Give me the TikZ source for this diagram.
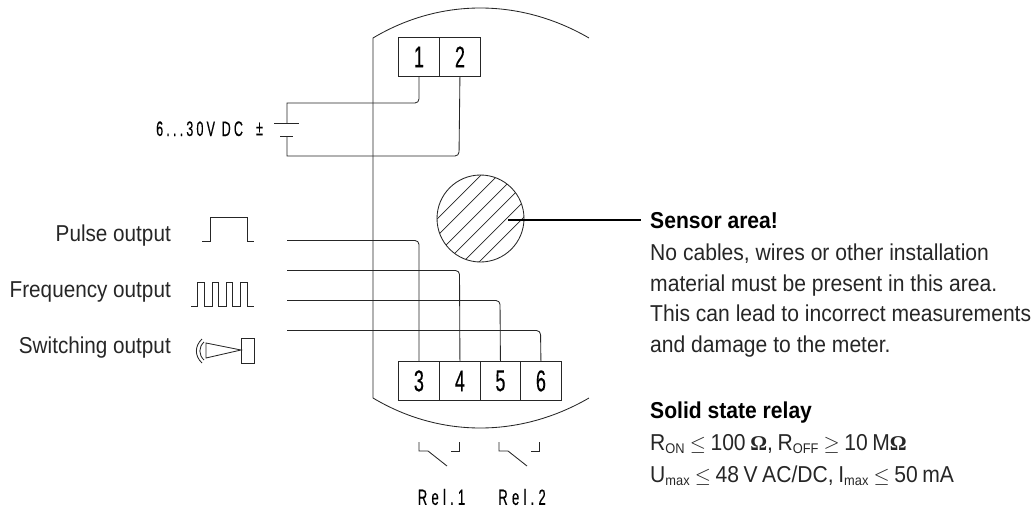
\documentclass[tikz,border=0pt]{standalone}
\usepackage{fontspec}
\usepackage{amsmath}
\setmainfont{Liberation Sans}
\newfontfamily\din[FakeStretch=0.6,LetterSpace=15,FakeBold=0.25]{Liberation Sans}
\newfontfamily\dinr[FakeStretch=0.6,LetterSpace=19,FakeBold=0.25]{Liberation Sans}
\newfontfamily\dinn[FakeStretch=0.6,FakeBold=0.25]{Liberation Sans}
\newfontfamily\body[FakeStretch=0.9]{Liberation Sans}
\newfontfamily\bodyw[FakeStretch=0.917]{Liberation Sans}
\newfontfamily\omf{Liberation Serif}
\tikzset{
 wire/.style={line width=0.85pt,draw=black!85},
 thin wire/.style={line width=0.85pt,draw=black!85},
 sym/.style={line width=0.85pt,draw=black!85},
 dinnum/.style={inner sep=0pt,font=\dinn\fontsize{30}{30}\selectfont},
 dinlab/.style={inner sep=0pt,font=\din\fontsize{21}{21}\selectfont},
 rellab/.style={inner sep=0pt,font=\dinr\fontsize{22}{22}\selectfont},
 lab/.style={inner sep=0pt,anchor=base east,font=\body\fontsize{23}{26}\selectfont,text=black!85},
 txt/.style={inner sep=0pt,anchor=base west,font=\bodyw\fontsize{23}{26}\selectfont,text=black!85},
 head/.style={inner sep=0pt,anchor=base west,font=\bodyw\bfseries\fontsize{23}{26}\selectfont},
 term/.style={draw=black!85,line width=0.85pt,inner sep=0pt,minimum height=39pt,anchor=north west},
}
\newcommand{\sbs}[1]{\textsubscript{\fontsize{14}{14}\selectfont #1}}
\newcommand{\myle}{{\fontsize{20}{20}\selectfont$\leq$}}
\newcommand{\myge}{{\fontsize{20}{20}\selectfont$\geq$}}
\newcommand{\myom}{{\omf\bfseries\fontsize{21}{21}\selectfont Ω}}
\begin{document}
\begin{tikzpicture}[x=1pt,y=-1pt]
\useasboundingbox (0,0) rectangle (1032,508);
% housing
\coordinate (tl) at (373,38);
\coordinate (bl) at (373,398);
\coordinate (tr) at (589,38);
\coordinate (br) at (589,398);
\draw[thin wire] (tr) .. controls (520,-2) and (440,-2) .. (tl) -- (bl) .. controls (440,438) and (520,438) .. (br);
% terminals
\node[term,minimum width=41pt] (t1) at (398,37) {};
\node[term,minimum width=41pt] (t2) at (439,37) {};
\node[term,minimum width=41pt] (t3) at (398,361) {};
\node[term,minimum width=41pt] (t4) at (439,361) {};
\node[term,minimum width=40pt] (t5) at (480,361) {};
\node[term,minimum width=41pt] (t6) at (520,361) {};
\foreach \n in {1,...,6}{\node[dinnum] at (t\n) {\n};}
% battery
\coordinate (pa) at (274,123.5);
\coordinate (pb) at (299,123.5);
\coordinate (pc) at (280,136);
\coordinate (pd) at (293,136);
\draw[thin wire] (pa) -- (pb);
\draw[thin wire] (pc) -- (pd);
\coordinate (bt) at (287,123.5);
\coordinate (bb) at (287,136);
\draw[wire] (t1.south) [rounded corners=4pt] -- (419,103) [sharp corners] -- (287,103) -- (bt);
\draw[wire] (t2.south) [rounded corners=4pt] -- (459,156) [sharp corners] -- (287,156) -- (bb);
\node[dinlab,anchor=base west] (dc) at (156,136) {6...30V DC};
\node[inner sep=0pt,font=\din\fontsize{21}{21}\selectfont] (pm) at (259.5,129) {±};
% outputs
\coordinate (o1) at (287,240.5);
\coordinate (o2) at (287,270.5);
\coordinate (o3) at (287,300.5);
\coordinate (o4) at (287,330.5);
\draw[wire,rounded corners=4pt] (o1) -- (419,240.5) -- (t3.north);
\draw[wire,rounded corners=4pt] (o2) -- (459.5,270.5) -- (t4.north);
\draw[wire,rounded corners=4pt] (o3) -- (500,300.5) -- (t5.north);
\draw[wire,rounded corners=4pt] (o4) -- (540.5,330.5) -- (t6.north);
\node[lab] (l1) at (171,241) {Pulse output};
\node[lab] (l2) at (171,297) {Frequency output};
\node[lab] (l3) at (171,353) {Switching output};
\draw[sym] (202,241) -- (210,241) -- (210,217) -- (247,217) -- (247,241) -- (254,241);
\draw[sym] (191,306) -- (197,306) -- (197,282) -- (204,282) -- (204,306) -- (212,306) -- (212,282) -- (218,282) -- (218,306) -- (226,306) -- (226,282) -- (232,282) -- (232,306) -- (240,306) -- (240,282) -- (247,282) -- (247,306) -- (254,306);
% switch symbol
\draw[sym] (241,338) rectangle (254,363);
\draw[sym] (241,350) -- (206,343) -- (206,358) -- cycle;
\draw[sym] (204,342) .. controls (198.5,347) and (198.5,355) .. (204,360);
\draw[sym] (202,339) .. controls (194.5,346) and (194.5,356) .. (202,363);
% sensor
\node[circle,draw=black!85,line width=0.85pt,minimum size=87pt,inner sep=0pt] (sens) at (480.5,218.5) {};
\begin{scope}
\clip (480.5,218.5) circle (43.5);
\foreach \c in {656,673,691,708,725,741}{
 \draw[line width=0.7pt,draw=black!85] (\c-300,300) -- (\c-100,100);
}
\end{scope}
\coordinate (lead) at (508,220);
\draw[line width=1.4pt] (lead) -- (641,220);
\node[head] at (650,228) {Sensor area!};
\node[txt] at (650,260) {No cables, wires or other installation};
\node[txt] at (650,291) {material must be present in this area.};
\node[txt] at (650,321.5) {This can lead to incorrect measurements};
\node[txt] at (650,352) {and damage to the meter.};
\node[head] at (650,418) {Solid state relay};
\node[txt] at (650,450) {\spaceskip=0.2em R\sbs{ON} \myle{} 100 \myom, R\sbs{OFF} \myge{} 10 M\myom};
\node[txt] at (650,482) {\spaceskip=0.2em U\sbs{max} \myle{} 48 V AC/DC, I\sbs{max} \myle{} 50 mA};
% relays
\foreach \d/\t in {0/1,80/2}{
 \draw[sym] (419+\d,442) -- (419+\d,451) -- (428+\d,451) -- (447+\d,466);
 \draw[sym] (459+\d,442) -- (459+\d,451) -- (451+\d,451);
}
\node[rellab] (r1) at (441.5,497) {Rel.1};
\node[rellab] (r2) at (522,497) {Rel.2};
\end{tikzpicture}
\end{document}
